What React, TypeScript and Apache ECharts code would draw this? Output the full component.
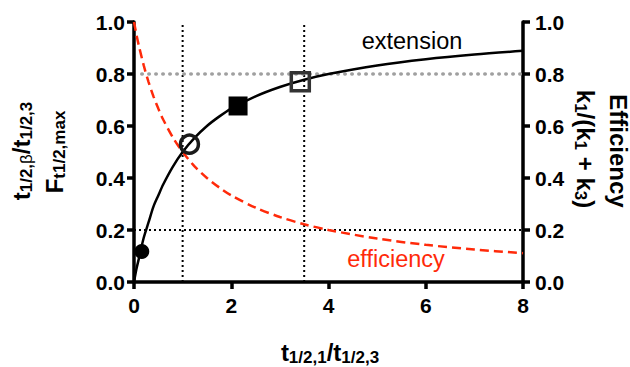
import React, { useEffect, useRef } from "react";
import * as echarts from "echarts";

const ratioX = [0, 0.05, 0.1, 0.2, 0.3, 0.4, 0.5, 0.6, 0.8, 1, 1.25, 1.5, 1.75, 2, 2.5, 3, 3.5, 4, 5, 6, 7, 8];
const extensionY = [0, 0.05, 0.09, 0.17, 0.23, 0.29, 0.333, 0.375, 0.444, 0.5, 0.555, 0.6, 0.636, 0.667, 0.714, 0.75, 0.778, 0.8, 0.833, 0.857, 0.875, 0.889];
const efficiencyY = [1, 0.952, 0.909, 0.833, 0.769, 0.714, 0.667, 0.625, 0.556, 0.5, 0.444, 0.4, 0.364, 0.333, 0.286, 0.25, 0.222, 0.2, 0.167, 0.143, 0.125, 0.111];

const filledCircle = [[0.16, 0.117]];
const openCircle = [[1.14, 0.53]];
const filledSquare = [[2.14, 0.677]];
const openSquare = [[3.42, 0.77]];

const verticalRefX = [1, 3.5];
const blackRefY = 0.2;
const grayRefY = 0.8;
const grayRefStartX = 0.16;

const xTicks = { min: 0, max: 8, interval: 2 };
const yTicks = { min: 0, max: 1, interval: 0.2 };

const FONT = "'Liberation Sans', Arial, Helvetica, sans-serif";
const RED = "#ff2a0a";

export default function App() {
  const ref = useRef<HTMLDivElement>(null);
  useEffect(() => {
    if (!ref.current) return;
    const chart = echarts.init(ref.current, undefined, { renderer: "svg" });
    const pairs = (xs: number[], ys: number[]) => xs.map((x, i) => [x, ys[i]]);
    const axisCommon = {
      axisLine: { show: true, lineStyle: { color: "#000", width: 3.5 } },
      axisTick: { show: true, inside: false, length: 7, lineStyle: { color: "#000", width: 3.5 } },
      splitLine: { show: false },
    };
    const tickLabel = { color: "#000", fontFamily: FONT, fontWeight: "bold" as const, fontSize: 21 };
    const rich = {
      m: { fontFamily: FONT, fontWeight: "bold", fontSize: 24, lineHeight: 27, color: "#000" },
      s: { fontFamily: FONT, fontWeight: "bold", fontSize: 17, lineHeight: 17, padding: [10, 0, 0, 0], color: "#000" },
      b: { fontFamily: FONT, fontWeight: "normal", fontSize: 17, lineHeight: 17, padding: [10, 0, 0, 0], color: "#000" },
    };
    const series: any[] = [];
    verticalRefX.forEach((x) => {
      series.push({
        type: "line", data: [[x, yTicks.min], [x, yTicks.max]], symbol: "none", silent: true, z: 1,
        lineStyle: { color: "#000", width: 2, type: [2, 3] },
      });
    });
    series.push({
      type: "line", data: [[xTicks.min, blackRefY], [xTicks.max, blackRefY]], symbol: "none", z: 1,
      lineStyle: { color: "#000", width: 2, type: [2, 3] },
    });
    series.push({
      type: "line", data: [[grayRefStartX, grayRefY], [xTicks.max, grayRefY]], symbol: "none", z: 1,
      lineStyle: { color: "#a0a0a0", width: 3.5, type: [0.5, 6.5], cap: "round" },
    });
    series.push({
      type: "line", data: pairs(ratioX, efficiencyY), symbol: "none", smooth: 0.3, z: 2,
      lineStyle: { color: RED, width: 2.5, type: [9, 5] },
    });
    series.push({
      type: "line", data: pairs(ratioX, extensionY), symbol: "none", smooth: 0.3, z: 3,
      lineStyle: { color: "#000", width: 2.5 },
    });
    series.push({ type: "scatter", data: filledCircle, symbol: "circle", symbolSize: 15, z: 5, itemStyle: { color: "#000", opacity: 1 } });
    series.push({ type: "scatter", data: filledSquare, symbol: "rect", symbolSize: 19, z: 5, itemStyle: { color: "#000", opacity: 1 } });
    series.push({
      type: "scatter", data: openCircle, symbol: "circle", symbolSize: 18, z: 5,
      itemStyle: { color: "rgba(0,0,0,0)", borderColor: "#1a1a1a", borderWidth: 3.5, opacity: 1 },
    });
    series.push({
      type: "scatter", data: openSquare, symbol: "rect", symbolSize: 18, z: 5,
      itemStyle: { color: "rgba(0,0,0,0)", borderColor: "#333", borderWidth: 3.5, opacity: 1 },
    });

    chart.setOption({
      animation: false,
      grid: { left: 134, right: 107, top: 22, bottom: 85, containLabel: false },
      xAxis: {
        type: "value", ...xTicks, ...axisCommon,
        axisLabel: { ...tickLabel, margin: 13 },
      },
      yAxis: [
        {
          type: "value", position: "left", ...yTicks, ...axisCommon,
          axisLabel: { ...tickLabel, margin: 9, formatter: (v: number) => v.toFixed(1) },
        },
        {
          type: "value", position: "right", ...yTicks, ...axisCommon,
          axisLabel: { ...tickLabel, margin: 12, formatter: (v: number) => v.toFixed(1) },
        },
      ],
      series,
      graphic: [
        {
          type: "text", x: 330, y: 352,
          style: { text: "{m|t}{s|1/2,1}{m|/t}{s|1/2,3}", rich, align: "center", verticalAlign: "middle" },
        },
        {
          type: "text", x: 21, y: 151, rotation: Math.PI / 2,
          style: { text: "{m|t}{s|1/2,}{b|β}{m|/t}{s|1/2,3}", rich, align: "center", verticalAlign: "middle" },
        },
        {
          type: "text", x: 54, y: 152, rotation: Math.PI / 2,
          style: { text: "{m|F}{s|t1/2,max}", rich, align: "center", verticalAlign: "middle" },
        },
        {
          type: "text", x: 618, y: 151, rotation: -Math.PI / 2,
          style: { text: "Efficiency", font: `bold 24px ${FONT}`, fill: "#000", align: "center", verticalAlign: "middle" },
        },
        {
          type: "text", x: 585, y: 149, rotation: -Math.PI / 2,
          style: { text: "{m|k}{s|1}{m|/(k}{s|1}{m| + k}{s|3}{m|)}", rich, align: "center", verticalAlign: "middle" },
        },
        {
          type: "text", x: 412, y: 41,
          style: { text: "extension", font: `normal 23.5px ${FONT}`, fill: "#000", align: "center", verticalAlign: "middle" },
        },
        {
          type: "text", x: 396, y: 259,
          style: { text: "efficiency", font: `normal 23.5px ${FONT}`, fill: RED, align: "center", verticalAlign: "middle" },
        },
      ],
    });
    return () => chart.dispose();
  }, []);
  return <div ref={ref} style={{ width: 630, height: 367, position: "absolute", left: 0, top: 0 }} />;
}
